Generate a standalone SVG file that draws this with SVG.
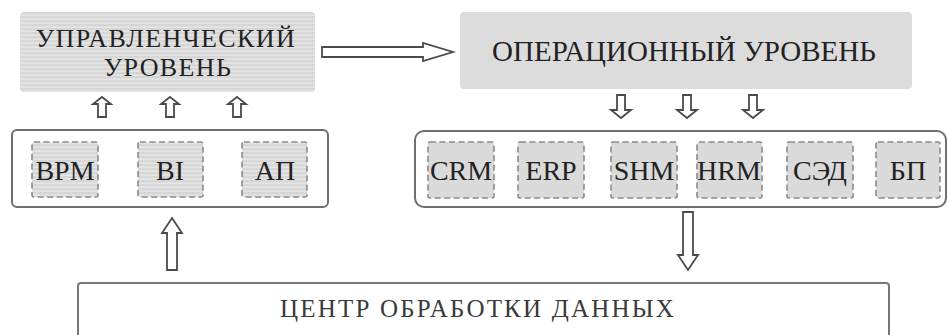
<svg xmlns="http://www.w3.org/2000/svg" width="948" height="335" viewBox="0 0 948 335">
<defs>
<pattern id="stripes" width="8" height="4" patternUnits="userSpaceOnUse">
<rect width="8" height="4" fill="#d6d6d7"/>
<rect y="2.5" width="8" height="1.2" fill="#ebebeb"/>
</pattern>
</defs>
<style>
text{font-family:'Liberation Serif','DejaVu Serif',serif;fill:#222;text-anchor:middle}
.lbl{font-size:28px}
.dash{stroke:#8a8a8a;stroke-width:1.6;stroke-dasharray:6,3.5}
.grp{fill:#fff;stroke:#6f6f6f;stroke-width:2}
.arr{fill:#fff;stroke:#4a4a4a;stroke-width:1.8;stroke-linejoin:miter}
</style>
<rect width="948" height="335" fill="#fff"/>
<g id="mgmt">
<rect x="20" y="12" width="295" height="80" rx="4" fill="url(#stripes)"/>
<text x="166" y="47" font-size="26" letter-spacing="1.4">УПРАВЛЕНЧЕСКИЙ</text>
<text x="168" y="76" font-size="26" letter-spacing="1.4">УРОВЕНЬ</text>
</g>
<g id="oper">
<rect x="460" y="12" width="452" height="77" rx="4" fill="#dcdcdd"/>
<text x="684" y="61" font-size="29">ОПЕРАЦИОННЫЙ УРОВЕНЬ</text>
</g>
<g id="analytics">
<rect class="grp" x="12" y="130" width="316" height="77" rx="5"/>
<g id="bpm"><rect class="dash" x="32" y="142" width="66" height="55" rx="2" fill="url(#stripes)"/><text class="lbl" x="65" y="180">BPM</text></g>
<g id="bi"><rect class="dash" x="138" y="142" width="65" height="55" rx="2" fill="url(#stripes)"/><text class="lbl" x="170" y="180">BI</text></g>
<g id="ap"><rect class="dash" x="242" y="142" width="65" height="55" rx="2" fill="url(#stripes)"/><text class="lbl" x="275" y="180">АП</text></g>
</g>
<g id="systems">
<rect class="grp" x="415" y="131" width="531" height="76" rx="9"/>
<g id="crm"><rect class="dash" x="428" y="142" width="66" height="56" rx="2" fill="#dadadb"/><text class="lbl" x="461" y="180">CRM</text></g>
<g id="erp"><rect class="dash" x="518" y="142" width="66" height="56" rx="2" fill="#dadadb"/><text class="lbl" x="551" y="180">ERP</text></g>
<g id="shm"><rect class="dash" x="611" y="142" width="66" height="56" rx="2" fill="#dadadb"/><text class="lbl" x="644" y="180">SHM</text></g>
<g id="hrm"><rect class="dash" x="697" y="142" width="65" height="56" rx="2" fill="#dadadb"/><text class="lbl" x="729" y="180">HRM</text></g>
<g id="sed"><rect class="dash" x="787" y="142" width="66" height="56" rx="2" fill="#dadadb"/><text class="lbl" x="820" y="180">СЭД</text></g>
<g id="bp"><rect class="dash" x="876" y="142" width="64" height="56" rx="2" fill="#dadadb"/><text class="lbl" x="908" y="180">БП</text></g>
</g>
<g id="dc">
<rect x="78" y="283" width="811" height="70" rx="3" fill="#fff" stroke="#777" stroke-width="2"/>
<text x="478" y="317" font-size="25" letter-spacing="2.2" style="fill:#3a3a3a">ЦЕНТР ОБРАБОТКИ ДАННЫХ</text>
</g>
<g id="connectors">
<path class="arr" d="M322,47 L423,47 L423,43 L453,52 L423,61 L423,57 L322,57 Z"/>
<path class="arr" d="M102,97 L111,104 L106,104 L106,117 L98,117 L98,104 L93,104 Z"/>
<path class="arr" d="M170,97 L179,104 L174,104 L174,117 L166,117 L166,104 L161,104 Z"/>
<path class="arr" d="M237,97 L246,104 L241,104 L241,117 L233,117 L233,104 L228,104 Z"/>
<path class="arr" d="M617,95 L625,95 L625,110 L631,110 L621,118 L611,110 L617,110 Z"/>
<path class="arr" d="M683,95 L691,95 L691,110 L697,110 L687,118 L677,110 L683,110 Z"/>
<path class="arr" d="M749,95 L757,95 L757,110 L763,110 L753,118 L743,110 L749,110 Z"/>
<path class="arr" d="M172,218 L182,233 L177,233 L177,270 L167,270 L167,233 L162,233 Z"/>
<path class="arr" d="M683,212 L693,212 L693,255 L698,255 L688,270 L678,255 L683,255 Z"/>
</g>
</svg>
